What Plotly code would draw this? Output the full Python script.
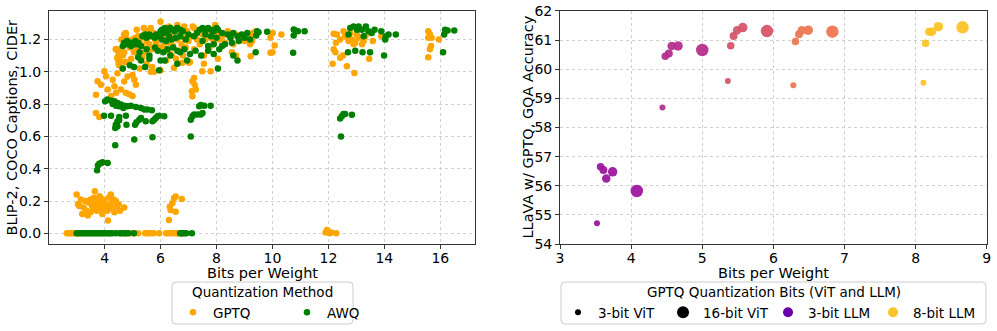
import plotly.graph_objects as go

# ---------------- Left panel data: BLIP-2 COCO CIDEr vs bits per weight ----------------
gptq_x = [
    # zero row
    2.65, 2.72, 2.78, 2.85, 2.92, 2.98, 3.05, 4.55, 4.75, 4.92, 5.05, 5.2, 5.45, 5.55, 5.62, 5.75,
    5.95, 6.2, 6.28, 6.35, 6.45, 6.55, 6.62, 6.7, 11.9, 11.95, 12.0, 12.05, 12.1, 12.28,
    # low cluster
    3.0, 3.05, 3.1, 3.15, 3.2, 3.25, 3.3, 3.35, 3.4, 3.45, 3.5, 3.55, 3.6, 3.62, 3.65, 3.7, 3.72,
    3.75, 3.8, 3.82, 3.85, 3.9, 3.92, 3.95, 4.0, 4.05, 4.1, 4.12, 4.15, 4.2, 4.22, 4.25, 4.3, 4.32,
    4.35, 4.4, 4.45, 4.5, 4.55, 4.7, 3.35, 3.5, 3.6, 3.75, 3.95, 4.05,
    # mid cluster near 6.5
    6.3, 6.36, 6.42, 6.48, 6.54, 6.76, 6.54, 6.33,
    # rising cluster
    3.75, 3.69, 3.99, 4.05, 3.87, 4.11, 4.29, 4.35, 4.41, 4.23, 4.58, 4.70, 4.76, 4.88, 5.0, 4.82,
    5.06, 5.12, 5.0, 4.46, 4.41, 4.46, 4.52, 4.58, 4.70, 4.64, 4.76, 3.69, 3.81, 5.77, 5.65, 6.0,
    4.4, 4.46, 4.52, 4.76,
    # column near 7.2
    7.2, 7.14, 7.12, 7.26, 7.14, 7.22, 7.49, 7.79, 6.48, 6.78, 7.02,
    # top band 4.5-9.5
    4.6, 4.7, 4.75, 4.85, 4.9, 5.0, 5.1, 5.15, 5.2, 5.25, 5.3, 5.35, 5.4, 5.45, 5.5, 5.55, 5.6,
    5.65, 5.7, 5.75, 5.8, 5.85, 5.9, 5.95, 6.0, 6.05, 6.1, 6.15, 6.2, 6.25, 6.3, 6.35, 6.4, 6.45,
    6.5, 6.55, 6.6, 6.65, 6.7, 6.75, 6.8, 6.85, 6.9, 6.95, 7.0, 7.05, 7.1, 7.15, 7.2, 7.3, 7.4,
    7.5, 7.55, 7.6, 7.7, 7.75, 7.8, 7.9, 7.95, 8.0, 8.1, 8.2, 8.3, 8.4, 8.5, 8.55, 8.6, 8.7, 8.8,
    8.9, 9.0, 9.1, 9.2, 9.3, 5.5, 5.35, 6.4, 7.55, 4.95, 5.05, 4.65, 4.55, 4.5, 4.5, 4.58, 5.15,
    5.65, 6.6, 7.2, 6.3, 5.4, 4.75, 6.85, 8.7, 8.05, 4.85, 5.25, 5.7, 6.2,
    # near 10
    9.93, 10.01, 10.32, 10.08, 9.93, 10.0, 9.22, 9.3, 9.27, 9.4,
    # 12-14 group
    12.19, 12.27, 12.19, 12.25, 12.15, 12.42, 12.52, 12.66, 12.93, 12.3, 12.42, 12.54, 12.6, 12.72,
    12.84, 12.96, 13.08, 13.2, 13.26, 13.46, 13.59, 13.89, 12.78, 13.02, 12.9, 13.32, 13.49,
    # 16 group
    15.57, 15.63, 15.57, 15.69, 15.67, 15.63, 15.57, 15.95,
]
gptq_y = [
    0.0, 0.0, 0.0, 0.0, 0.0, 0.0, 0.0, 0.0, 0.0, 0.0, 0.0, 0.0, 0.0, 0.0, 0.0, 0.0,
    0.0, 0.0, 0.0, 0.0, 0.0, 0.0, 0.0, 0.0, 0.005, 0.02, 0.01, 0.0, 0.005, 0.0,
    0.24, 0.18, 0.17, 0.21, 0.12, 0.16, 0.20, 0.14, 0.11, 0.19, 0.21, 0.17, 0.15, 0.22, 0.26, 0.18, 0.14,
    0.20, 0.17, 0.23, 0.15, 0.19, 0.12, 0.21, 0.16, 0.18, 0.14, 0.08, 0.22, 0.17, 0.24, 0.19, 0.15, 0.21,
    0.13, 0.20, 0.17, 0.18, 0.14, 0.16, 0.20, 0.13, 0.19, 0.16, 0.20, 0.15,
    0.083, 0.145, 0.186, 0.217, 0.228, 0.213, 0.134, 0.165,
    0.941, 0.858, 1.003, 0.972, 0.92, 0.89, 0.95, 0.91, 0.87, 0.85, 0.89, 0.94, 0.87, 0.86, 0.85, 0.97,
    0.95, 0.92, 0.98, 0.99, 1.14, 1.08, 1.04, 1.10, 1.12, 1.02, 1.06, 0.745, 0.72, 1.0, 1.0, 1.01,
    1.14, 1.09, 1.055, 1.235,
    0.962, 0.941, 0.879, 0.89, 0.848, 0.92, 1.003, 1.003, 1.024, 1.055, 1.055,
    1.2, 1.23, 1.21, 1.19, 1.15, 1.2, 1.21, 1.14, 1.22, 1.18, 1.21, 1.16, 1.23, 1.12, 1.19, 1.25, 1.17,
    1.22, 1.14, 1.24, 1.2, 1.18, 1.23, 1.15, 1.31, 1.22, 1.16, 1.2, 1.13, 1.24, 1.18, 1.11, 1.22, 1.16,
    1.26, 1.08, 1.2, 1.13, 1.23, 1.17, 1.1, 1.21, 1.15, 1.25, 1.19, 1.06, 1.22, 1.28, 1.14, 1.2, 1.17,
    1.23, 1.1, 1.2, 1.26, 1.15, 1.21, 1.18, 1.29, 1.24, 1.2, 1.22, 1.18, 1.25, 1.21, 1.12, 1.17, 1.23, 1.2,
    1.22, 1.19, 1.21, 1.17, 1.24, 1.05, 1.09, 1.1, 1.05, 1.08, 1.12, 1.1, 1.14, 1.12, 1.05, 1.06, 1.26,
    1.27, 1.29, 1.27, 1.28, 1.27, 1.24, 1.28, 1.1, 1.08, 1.06, 1.02, 1.03, 1.07,
    1.21, 1.24, 1.23, 1.163, 1.117, 1.12, 1.096, 1.23, 1.19, 1.25,
    1.235, 1.18, 1.14, 1.12, 1.05, 1.086, 1.10, 1.034, 0.993, 1.23, 1.2, 1.25, 1.22, 1.19,
    1.2, 1.18, 1.21, 1.17, 1.19, 1.08, 1.19, 1.22, 1.24, 1.23, 1.17, 1.22, 1.24,
    1.25, 1.23, 1.21, 1.21, 1.16, 1.14, 1.09, 1.20,
]

awq_x = [
    # zero row
    3.0, 3.07, 3.14, 3.2, 3.27, 3.34, 3.4, 3.47, 3.54, 3.6, 3.67, 3.74, 3.8, 3.87, 3.94, 4.0, 4.07,
    4.14, 4.2, 4.27, 4.4, 4.55, 4.62, 4.7, 4.78, 4.85, 5.05, 6.7, 6.75, 6.8, 6.85, 6.92, 7.12,
    # ~0.4 cluster and isolated
    3.73, 3.76, 3.81, 3.87, 3.93, 4.11, 4.38, 5.06, 5.71, 7.08, 12.45,
    # 0.65-0.82 region
    4.02, 4.1, 4.23, 4.35, 4.46, 4.58, 4.7, 4.82, 4.94, 5.12, 5.3, 5.42, 5.53, 5.69, 4.29, 4.41,
    4.52, 4.67, 3.98, 4.23, 4.52, 4.76, 4.4, 4.46, 4.52, 4.38, 4.46, 4.78, 5.09, 5.14, 5.24, 5.3,
    5.47, 5.77, 5.83, 5.89, 6.13, 5.95, 5.71,
    # column near 7.2
    7.08, 7.14, 7.2, 7.32, 7.44, 7.5, 7.38, 7.44, 7.56, 7.79,
    # 12.5 group
    12.42, 12.48, 12.54, 12.6, 12.84,
    # top band
    4.65, 4.7, 4.75, 4.8, 4.85, 4.9, 4.95, 5.0, 5.05, 5.1, 5.15, 5.2, 5.3,
    5.35, 5.45, 5.5, 5.55, 5.6, 5.7, 5.8, 5.85, 5.95,
    6.0, 6.05, 6.1, 6.15, 6.2, 6.3, 6.35, 6.45, 6.5, 6.6, 6.7, 6.8, 7.4, 7.5, 7.6, 7.7, 7.8, 7.9,
    8.0, 8.05,
    6.05, 6.2, 6.3, 6.4, 6.55, 6.7, 6.9, 7.0, 7.2, 7.3, 7.6, 7.8, 8.0, 8.2, 8.4, 8.5, 8.6, 8.75,
    8.9, 9.0, 9.2, 9.1, 8.8, 8.55, 8.3, 8.2, 8.1, 7.9, 7.7, 7.5,
    5.25, 5.5, 5.6, 5.8, 5.9, 6.1, 6.25, 6.35, 6.45, 6.6, 6.7, 6.85, 7.05, 7.25, 7.45, 7.7, 7.9,
    8.6, 8.75,
    4.65, 4.9, 5.05, 5.3, 5.45, 5.6, 5.95, 6.15, 6.6, 6.95, 8.05, 5.2, 6.0,
    # near 9.5 and 11
    9.45, 9.5, 9.42, 9.81, 9.4, 10.76, 10.82, 10.76, 10.91, 11.15, 10.74,
    # 12.7-14.5
    12.72, 12.78, 12.9, 13.02, 13.08, 13.2, 13.34, 13.43, 13.55, 13.65, 13.89, 14.05, 14.15, 14.41,
    14.03, 12.7, 12.96, 13.22, 13.49, 13.99, 13.26,
    # 16 group
    16.17, 16.26, 16.14, 16.5, 16.1,
]
awq_y = [
    0.0, 0.0, 0.0, 0.0, 0.0, 0.0, 0.0, 0.0, 0.0, 0.0, 0.0, 0.0, 0.0, 0.0, 0.0, 0.0, 0.0,
    0.0, 0.0, 0.0, 0.0, 0.0, 0.0, 0.0, 0.0, 0.0, 0.0, 0.0, 0.0, 0.0, 0.0, 0.0, 0.0,
    0.39, 0.42, 0.43, 0.435, 0.44, 0.435, 0.545, 0.58, 0.595, 0.60, 0.60,
    0.817, 0.828, 0.82, 0.817, 0.807, 0.797, 0.79, 0.786, 0.79, 0.782, 0.776, 0.766, 0.766, 0.761,
    0.80, 0.79, 0.786, 0.776, 0.728, 0.728, 0.72, 0.728, 0.672, 0.693, 0.70, 0.652, 0.662, 0.672,
    0.672, 0.687, 0.703, 0.714, 0.693, 0.703, 0.714, 0.724, 0.724, 0.728, 0.693,
    0.703, 0.724, 0.735, 0.735, 0.735, 0.745, 0.786, 0.795, 0.79, 0.79,
    0.71, 0.724, 0.739, 0.739, 0.734,
    1.16, 1.18, 1.17, 1.19, 1.17, 1.18, 1.16, 1.18, 1.17, 1.19, 1.17, 1.18, 1.16,
    1.22, 1.23, 1.21, 1.22, 1.23, 1.22, 1.21, 1.23, 1.22,
    1.25, 1.26, 1.24, 1.27, 1.25, 1.26, 1.27, 1.26, 1.25, 1.27, 1.26, 1.25, 1.26, 1.27, 1.26, 1.27,
    1.26, 1.25, 1.27, 1.26,
    1.2, 1.19, 1.22, 1.2, 1.21, 1.22, 1.2, 1.23, 1.22, 1.24, 1.23, 1.22, 1.21, 1.24, 1.23, 1.21,
    1.24, 1.22, 1.23, 1.21, 1.2, 1.24, 1.19, 1.18, 1.17, 1.16, 1.14, 1.17, 1.16, 1.19,
    1.12, 1.14, 1.10, 1.15, 1.13, 1.12, 1.14, 1.10, 1.15, 1.13, 1.12, 1.14, 1.11, 1.13, 1.10,
    1.13, 1.11, 1.1, 1.07,
    1.02, 1.04, 1.03, 1.07, 1.03, 1.08, 1.01, 1.07, 1.05, 1.07, 1.02, 1.09, 1.07,
    1.25, 1.245, 1.225, 1.248, 1.12, 1.262, 1.256, 1.225, 1.25, 1.25, 1.117,
    1.23, 1.27, 1.28, 1.26, 1.28, 1.26, 1.28, 1.25, 1.24, 1.26, 1.25, 1.22, 1.23, 1.23,
    1.20, 1.12, 1.13, 1.12, 1.12, 1.10, 1.22,
    1.26, 1.256, 1.23, 1.256, 1.12,
]

left_xticks = [4, 6, 8, 10, 12, 14, 16]
left_yticks = [0.0, 0.2, 0.4, 0.6, 0.8, 1.0, 1.2]

# ---------------- Right panel data: LLaVA GQA accuracy ----------------
vit_bits = [3, 4, 5, 6, 8, 16] * 5
llm_bits = [3] * 6 + [4] * 6 + [5] * 6 + [6] * 6 + [8] * 6
bpw = [3.52, 3.57, 3.61, 3.65, 3.74, 4.08,
       4.44, 4.48, 4.53, 4.57, 4.66, 5.00,
       5.36, 5.40, 5.44, 5.49, 5.57, 5.91,
       6.28, 6.31, 6.36, 6.40, 6.49, 6.83,
       8.11, 8.14, 8.19, 8.23, 8.32, 8.66]
gqa = [54.71, 56.65, 56.54, 56.25, 56.48, 55.82,
       58.69, 60.45, 60.54, 60.80, 60.80, 60.66,
       59.60, 60.81, 61.14, 61.34, 61.43, 61.31,
       59.45, 60.95, 61.20, 61.34, 61.34, 61.29,
       59.54, 60.89, 61.29, 61.29, 61.46, 61.44]
right_xticks = [3, 4, 5, 6, 7, 8, 9]
right_yticks = [54, 55, 56, 57, 58, 59, 60, 61, 62]

llm_colors = {3: "#9c179e", 4: "#b52f8c", 5: "#d6556d", 6: "#ec7853", 8: "#fdc328"}
vit_sizes = {3: 6, 4: 7.5, 5: 8, 6: 8.5, 8: 9.5, 16: 12.5}

FONT = "DejaVu Sans"
GPTQ_COLOR = "#ffa500"
AWQ_COLOR = "#008000"

fig = go.Figure()

fig.add_trace(go.Scatter(x=gptq_x, y=gptq_y, mode="markers", name="GPTQ",
                         marker=dict(color=GPTQ_COLOR, size=6.5, line=dict(width=0)),
                         xaxis="x", yaxis="y", legend="legend"))
fig.add_trace(go.Scatter(x=awq_x, y=awq_y, mode="markers", name="AWQ",
                         marker=dict(color=AWQ_COLOR, size=6.5, line=dict(width=0)),
                         xaxis="x", yaxis="y", legend="legend"))

for lb in sorted(set(llm_bits)):
    idx = [i for i, b in enumerate(llm_bits) if b == lb]
    fig.add_trace(go.Scatter(
        x=[bpw[i] for i in idx], y=[gqa[i] for i in idx], mode="markers",
        marker=dict(color=llm_colors[lb], size=[vit_sizes[vit_bits[i]] for i in idx],
                    line=dict(width=0), opacity=0.95),
        xaxis="x2", yaxis="y2", showlegend=False))

# legend entries for the right panel
legend_items = [("3-bit ViT", "black", 6), ("16-bit ViT", "black", 12),
                ("3-bit LLM", "#6a00a8", 10), ("8-bit LLM", "#fdc328", 10)]
for name, col, sz in legend_items:
    fig.add_trace(go.Scatter(x=[None], y=[None], mode="markers", name=name,
                             marker=dict(color=col, size=sz),
                             xaxis="x2", yaxis="y2", legend="legend2"))

axis_common = dict(showline=True, linecolor="#333333", linewidth=1, mirror=True,
                   ticks="outside", ticklen=4, tickcolor="#333333", automargin=False,
                   showgrid=True, gridcolor="#d0d0d0", griddash="dot", gridwidth=1,
                   zeroline=False, tickfont=dict(size=14, color="black", family=FONT))
xaxis_extra = dict(ticklabelstandoff=-3)

LEG_FONT = dict(size=13.5, family=FONT, color="black")
TITLE_FONT = dict(size=14.5, family=FONT, color="black")
W, H = 997.0, 331.0


def rounded_box(x0, y0, x1, y1, r=4):
    """Legend frame path in pixel units converted to paper fractions."""
    def px(x): return x / W
    def py(y): return 1 - y / H
    return (f"M {px(x0 + r)},{py(y0)} L {px(x1 - r)},{py(y0)} Q {px(x1)},{py(y0)} {px(x1)},{py(y0 + r)} "
            f"L {px(x1)},{py(y1 - r)} Q {px(x1)},{py(y1)} {px(x1 - r)},{py(y1)} "
            f"L {px(x0 + r)},{py(y1)} Q {px(x0)},{py(y1)} {px(x0)},{py(y1 - r)} "
            f"L {px(x0)},{py(y0 + r)} Q {px(x0)},{py(y0)} {px(x0 + r)},{py(y0)} Z")


def label(text, x, y, angle=0, font=TITLE_FONT):
    return dict(text=text, xref="paper", yref="paper", x=x / W, y=1 - y / H,
                xanchor="center", yanchor="middle", showarrow=False, textangle=angle, font=font)


fig.update_layout(
    width=997, height=331,
    margin=dict(l=0, r=0, t=0, b=0),
    paper_bgcolor="white", plot_bgcolor="white",
    font=dict(family=FONT, color="black", size=14),
    xaxis=dict(domain=[0.0491, 0.4764], range=[2.01, 17.24], tickvals=left_xticks,
               **axis_common, **xaxis_extra),
    yaxis=dict(domain=[0.2628, 0.9668], range=[-0.066, 1.376], tickvals=left_yticks,
               tickformat=".1f", **axis_common),
    xaxis2=dict(domain=[0.5617, 0.9897], range=[3, 9], tickvals=right_xticks, anchor="y2",
                **axis_common, **xaxis_extra),
    yaxis2=dict(domain=[0.2628, 0.9668], range=[54, 62], tickvals=right_yticks, anchor="x2",
                **axis_common),
    legend=dict(orientation="h", x=0.1735, xanchor="left", y=0.009, yanchor="bottom",
                font=LEG_FONT, borderwidth=0, bgcolor="rgba(0,0,0,0)",
                itemsizing="trace", entrywidth=69, tracegroupgap=0),
    legend2=dict(orientation="h", x=0.5597, xanchor="left", y=0.009, yanchor="bottom",
                 font=LEG_FONT, borderwidth=0, bgcolor="rgba(0,0,0,0)",
                 itemsizing="trace", entrywidth=60, tracegroupgap=0),
    annotations=[
        label("Bits per Weight", 262, 273),
        label("Bits per Weight", 773.5, 273),
        label("BLIP-2, COCO Captions, CIDEr", 11, 127.5, angle=-90),
        label("LLaVA w/ GPTQ, GQA Accuracy", 527, 127.5, angle=-90),
        label("Quantization Method", 262.5, 292, font=LEG_FONT),
        label("GPTQ Quantization Bits (ViT and LLM)", 773.5, 292, font=LEG_FONT),
    ],
    shapes=[
        dict(type="path", xref="paper", yref="paper", path=rounded_box(172, 282, 353, 324),
             line=dict(color="#cccccc", width=1), fillcolor="rgba(255,255,255,0.8)", layer="below"),
        dict(type="path", xref="paper", yref="paper", path=rounded_box(561, 282, 986, 324),
             line=dict(color="#cccccc", width=1), fillcolor="rgba(255,255,255,0.8)", layer="below"),
    ],
)

fig.write_html(
    "out.html",
    config={"displayModeBar": False},
    post_script="document.body.style.margin='0px';document.body.style.padding='0px';"
                "document.body.style.overflow='hidden';",
)
